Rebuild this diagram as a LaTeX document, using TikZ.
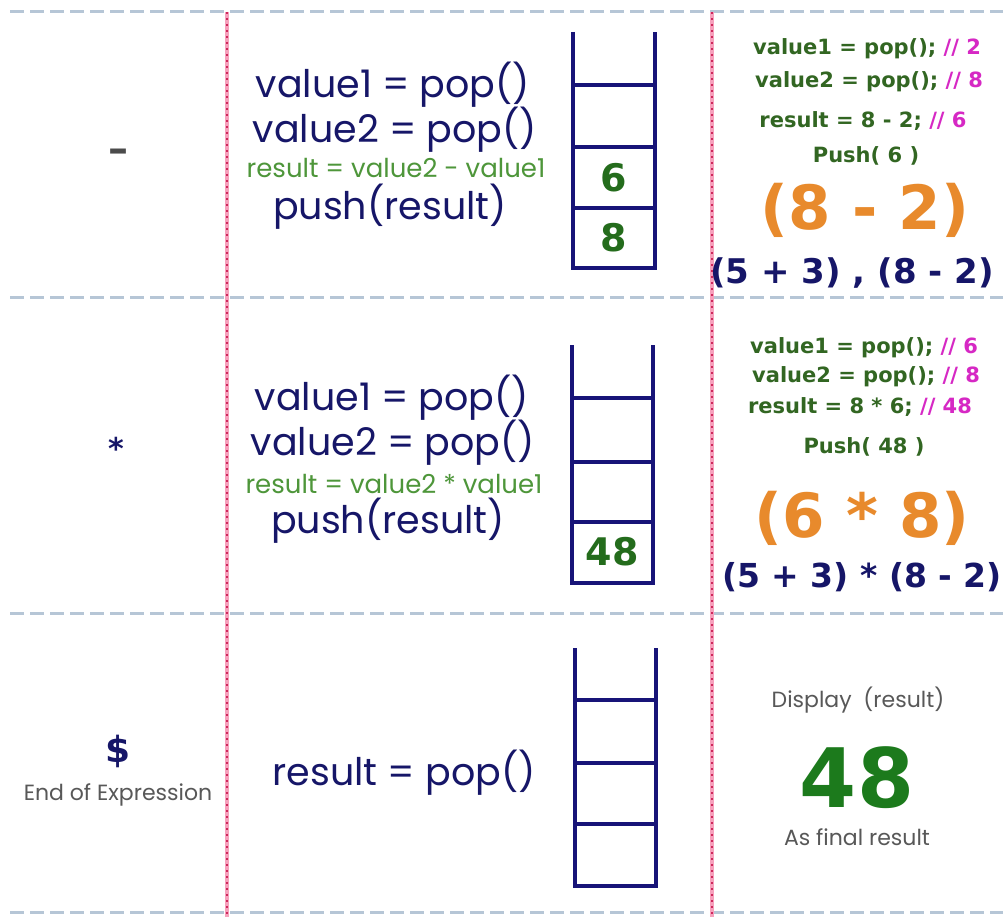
\documentclass[tikz,border=0pt]{standalone}
\usepackage{fontspec}
\setmainfont{DejaVu Sans}
\newfontfamily\geofont{Poppins}
\newfontfamily\boldsans{DejaVu Sans Bold}
\newcommand{\setfs}[1]{\fontsize{#1}{#1}\selectfont}

\definecolor{navy}{RGB}{22,22,104}
\definecolor{stackblue}{RGB}{24,20,120}
\definecolor{tracegreen}{RGB}{50,102,34}
\definecolor{notegreen}{RGB}{78,150,58}
\definecolor{cellgreen}{RGB}{36,108,28}
\definecolor{finalgreen}{RGB}{28,122,28}
\definecolor{hl}{RGB}{214,40,196}
\definecolor{evalorange}{RGB}{232,138,44}
\definecolor{labelgray}{RGB}{88,88,88}
\definecolor{rowrule}{RGB}{182,198,214}
\definecolor{colrule}{RGB}{246,160,188}
\definecolor{coldot}{RGB}{206,40,92}

\tikzset{
  rowsep/.style={rowrule, line width=3pt, dash pattern=on 14pt off 6pt},
  colsepbase/.style={colrule, line width=3.5pt},
  colsepdots/.style={coldot, line width=2pt, dash pattern=on 2pt off 4pt},
  stackline/.style={stackblue, line width=4pt},
  code/.style={font=\geofont\setfs{38}, text=navy, anchor=base, inner sep=0pt},
  note/.style={font=\geofont\setfs{26}, text=notegreen, anchor=base, inner sep=0pt},
  trace/.style={font=\boldsans\setfs{21}, text=tracegreen, anchor=base, inner sep=0pt},
  evalbig/.style={font=\boldsans\setfs{61}, text=evalorange, anchor=base, inner sep=0pt},
  expr/.style={font=\boldsans\setfs{33}, text=navy, anchor=base, inner sep=0pt},
  cellnum/.style={font=\boldsans\setfs{38}, text=cellgreen, anchor=center, inner sep=0pt},
  graylabel/.style={font=\geofont\setfs{22}, text=labelgray, anchor=base, inner sep=0pt},
  finalnum/.style={font=\boldsans\setfs{82}, text=finalgreen, anchor=base, inner sep=0pt}
}

\begin{document}
\begin{tikzpicture}[x=1pt,y=-1pt]
\useasboundingbox (0,0) rectangle (1003,917);
\fill[white] (0,0) rectangle (1003,917);

% table rules
\foreach \y in {12,297,613,912}
  \draw[rowsep] (10,\y) -- (1003,\y);
\foreach \x in {227,712} {
  \draw[colsepbase] (\x,12) -- (\x,917);
  \draw[colsepdots] (\x,12) -- (\x,917);
}

% ---------- row 1 : operator "-" ----------
\node[font=\boldsans\setfs{40}, text=labelgray!85!black, anchor=center, inner sep=0pt] (opminus) at (118,156) {–};

\node[code] (r1v1)   at (393,98)  {value1 = pop()};
\node[code] (r1v2)   at (395,143) {value2 = pop()};
\node[note] (r1res)  at (396,178) {result = value2 - value1};
\node[code] (r1push) at (390,220) {push(result)};

\draw[stackline] (573,32) -- (573,268) -- (655,268) -- (655,32);
\foreach \y in {85,147,208}
  \draw[stackline] (573,\y) -- (655,\y);
\node[cellnum] (s1six)   at (614,178) {6};
\node[cellnum] (s1eight) at (614,238) {8};

\node[trace] (t1a) at (867,55)  {value1 = pop(); {\color{hl}// 2}};
\node[trace] (t1b) at (869,88)  {value2 = pop(); {\color{hl}// 8}};
\node[trace] (t1c) at (863,128) {result = 8 - 2; {\color{hl}// 6}};
\node[trace] (t1d) at (866,163) {Push( 6 )};
\node[evalbig] (e1) at (865,230) {(8 - 2)};
\node[expr, font=\boldsans\setfs{34}] (x1) at (852,283) {(5 + 3) , (8 - 2)};

% ---------- row 2 : operator "*" ----------
\node[font=\boldsans\setfs{30}, text=navy, anchor=north, inner sep=0pt] (opstar) at (116,437) {*};

\node[code] (r2v1)   at (392,410) {value1 = pop()};
\node[code] (r2v2)   at (393,455) {value2 = pop()};
\node[note] (r2res)  at (394,493) {result = value2 * value1};
\node[code] (r2push) at (388,533) {push(result)};

\draw[stackline] (572,345) -- (572,583) -- (653,583) -- (653,345);
\foreach \y in {398,462,522}
  \draw[stackline] (572,\y) -- (653,\y);
\node[cellnum] (s2top) at (612,552) {48};

\node[trace] (t2a) at (864,353) {value1 = pop(); {\color{hl}// 6}};
\node[trace] (t2b) at (866,382) {value2 = pop(); {\color{hl}// 8}};
\node[trace] (t2c) at (860,413) {result = 8 * 6; {\color{hl}// 48}};
\node[trace] (t2d) at (864,453) {Push( 48 )};
\node[evalbig] (e2) at (862,537) {(6 * 8)};
\node[expr] (x2) at (862,587) {(5 + 3) * (8 - 2)};

% ---------- row 3 : end of expression ----------
\node[font=\boldsans\setfs{36}, text=navy, anchor=center, inner sep=0pt] (opend) at (118,751) {\$};
\node[graylabel] (endlabel) at (118,800) {End of Expression};

\node[code] (r3res) at (404,785) {result = pop()};

\draw[stackline] (575,648) -- (575,886) -- (656,886) -- (656,648);
\foreach \y in {700,763,824}
  \draw[stackline] (575,\y) -- (656,\y);

\node[graylabel] (disp)  at (858,707) {Display\ \ (result)};
\node[finalnum]  (final) at (857,807) {48};
\node[graylabel] (asfin) at (857,845) {As final result};
\end{tikzpicture}
\end{document}
